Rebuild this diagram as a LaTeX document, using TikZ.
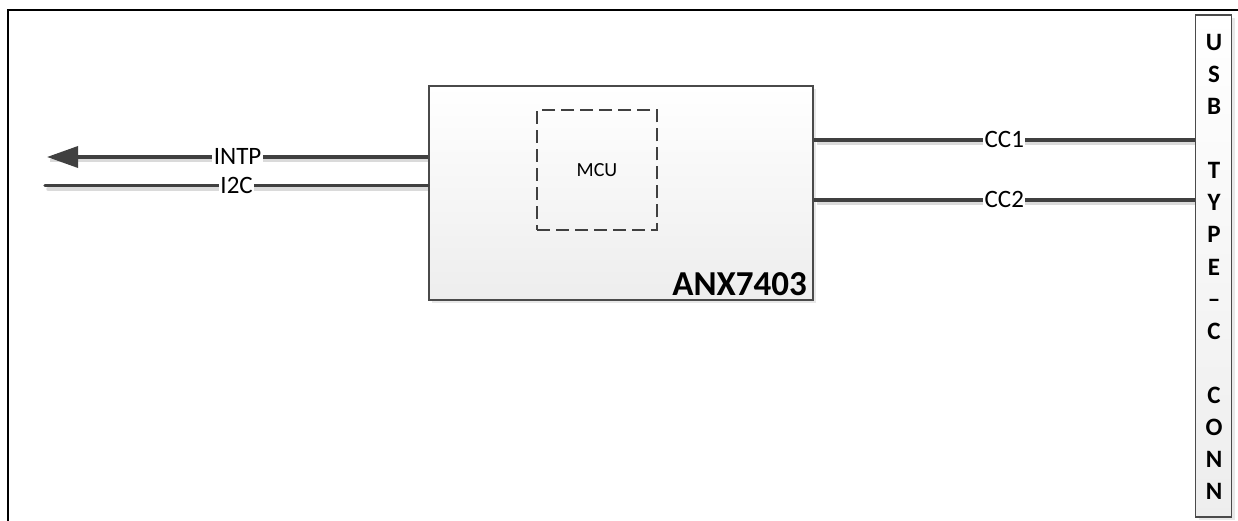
\documentclass[tikz,border=0pt]{standalone}
\usepackage{fontspec}
\setmainfont{Carlito}
\usetikzlibrary{arrows.meta,shadows,calc}
\definecolor{linec}{HTML}{404040}
\definecolor{boxedge}{HTML}{4A4A4A}
\definecolor{shadowc}{HTML}{DADADA}
\pgfdeclarelayer{bg}
\pgfsetlayers{bg,main}
\begin{document}
\begin{tikzpicture}[x=1pt,y=-1pt,
  sig/.style={draw=linec, line width=3.5pt},
  sigshadow/.style={draw=shadowc, line width=3.5pt},
  lbl/.style={fill=white, inner xsep=1.5pt, inner ysep=1pt, font=\fontsize{25}{25}\selectfont, text height=16pt, text depth=0pt, text=black},
  chip/.style={draw=boxedge, line width=1.6pt, top color=white, bottom color=black!7,
    drop shadow={opacity=0.18, shadow xshift=3pt, shadow yshift=-3pt}},
  usbletter/.style={font=\bfseries\fontsize{25}{25}\selectfont, inner sep=0pt, text height=16pt, text depth=0pt},
]
\useasboundingbox (0,0) rectangle (1238,521);

% outer frame
\draw[line width=2.5pt] (8,521) -- (8,10) -- (1238,10);

% blocks
\node[chip, minimum width=384pt, minimum height=214pt, inner sep=0pt] (anx) at (621,193) {};
\node[draw=linec, dash pattern=on 13pt off 6pt, line width=2pt, minimum width=120pt, minimum height=120pt,
  inner sep=0pt, font=\fontsize{20}{20}\selectfont] (mcu) at (597,170.5) {MCU};
\node[anchor=base east, font=\bfseries\fontsize{35}{35}\selectfont, inner sep=0pt] (anxlbl) at (807,295) {ANX7403};

\node[chip, minimum width=36pt, minimum height=502pt, inner sep=0pt] (usb) at (1213.5,266) {};
\foreach \c [count=\i from 0] in {U,S,B,{},T,Y,P,E,–,C,{},C,O,N,N}
  \node[usbletter] (usbl\i) at (1214,43+32*\i) {\c};

% signal coordinates
\coordinate (intpL) at (47,157);
\coordinate (i2cL) at (45,185.5);
\coordinate (cc1y) at (0,140);
\coordinate (cc2y) at (0,200);

% shadows of the signal lines
\begin{pgfonlayer}{bg}
  \draw[sigshadow] ([shift={(3,3.5)}]anx.west |- intpL) -- ([shift={(3,3.5)}]intpL);
  \draw[sigshadow, line cap=round] ([shift={(3,3.5)}]anx.west |- i2cL) -- ([shift={(3,3.5)}]i2cL);
  \draw[sigshadow] ([shift={(3,3.5)}]anx.east |- cc1y) -- ([shift={(3,3.5)}]usb.west |- cc1y);
  \draw[sigshadow] ([shift={(3,3.5)}]anx.east |- cc2y) -- ([shift={(3,3.5)}]usb.west |- cc2y);
\end{pgfonlayer}

% signal lines
\draw[sig, -{Triangle[length=31pt,width=21pt]}] (anx.west |- intpL) -- (intpL) node[lbl, midway] (intplbl) {INTP};
\draw[sig, line cap=round] (anx.west |- i2cL) -- (i2cL) node[lbl, midway] (i2clbl) {I2C};
\draw[sig] (anx.east |- cc1y) -- (usb.west |- cc1y) node[lbl, midway] (cc1lbl) {CC1};
\draw[sig] (anx.east |- cc2y) -- (usb.west |- cc2y) node[lbl, midway] (cc2lbl) {CC2};
\end{tikzpicture}
\end{document}
